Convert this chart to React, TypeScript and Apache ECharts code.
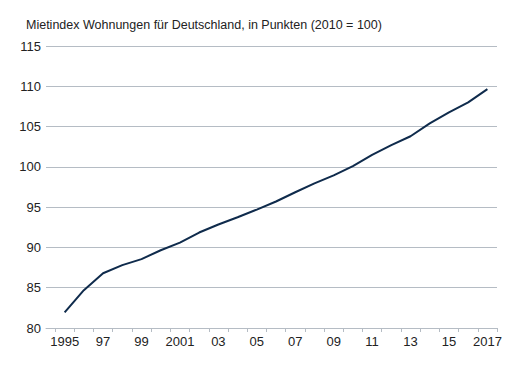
import React, { useEffect, useRef } from "react";
import * as echarts from "echarts";

const title = "Mietindex Wohnungen für Deutschland, in Punkten (2010 = 100)";
const years = [1995, 1996, 1997, 1998, 1999, 2000, 2001, 2002, 2003, 2004, 2005, 2006, 2007, 2008, 2009, 2010, 2011, 2012, 2013, 2014, 2015, 2016, 2017];
const values = [81.95, 84.7, 86.8, 87.8, 88.55, 89.65, 90.6, 91.85, 92.85, 93.75, 94.7, 95.7, 96.85, 97.95, 98.95, 100.1, 101.5, 102.7, 103.8, 105.4, 106.75, 108.0, 109.65];
const tickYears = [1994.5, 1995.5, 1996.5, 1997.5, 1998.5, 1999.5, 2000.5, 2001.5, 2002.5, 2003.5, 2004.5, 2005.5, 2006.5, 2007.5, 2008.5, 2009.5, 2010.5, 2011.5, 2012.5, 2013.5, 2014.5, 2015.5, 2016.5, 2017.5];
const labelYears = [1995, 1997, 1999, 2001, 2003, 2005, 2007, 2009, 2011, 2013, 2015, 2017];
const labelTexts = ["1995", "97", "99", "2001", "03", "05", "07", "09", "11", "13", "15", "2017"];

const FONT = "Liberation Sans, Arial, sans-serif";

export default function App() {
  const ref = useRef<HTMLDivElement>(null);
  useEffect(() => {
    if (!ref.current) return;
    const chart = echarts.init(ref.current, null, { renderer: "svg" });
    chart.setOption({
      animation: false,
      backgroundColor: "#ffffff",
      title: {
        text: title,
        left: 13,
        top: 5,
        textStyle: { fontFamily: FONT, fontSize: 12.5, fontWeight: "normal", color: "#222222" },
      },
      grid: { left: 38, right: 13, top: 38, bottom: 49, containLabel: false },
      xAxis: {
        type: "value",
        min: 1994.03,
        max: 2017.5,
        splitLine: { show: false },
        axisLine: { show: true, lineStyle: { color: "#b5bcc4", width: 1 } },
        axisTick: { show: true, length: 4, customValues: tickYears, lineStyle: { color: "#b5bcc4" } },
        axisLabel: {
          customValues: labelYears,
          formatter: (v: number) => {
            const i = labelYears.indexOf(Math.round(v));
            return i >= 0 ? labelTexts[i] : "";
          },
          fontFamily: FONT,
          fontSize: 13,
          color: "#222222",
          margin: 7,
        },
      },
      yAxis: {
        type: "value",
        min: 80,
        max: 115,
        interval: 5,
        axisLine: { show: false },
        axisTick: { show: false },
        splitLine: { show: true, lineStyle: { color: "#b5bcc4", width: 1 } },
        axisLabel: { fontFamily: FONT, fontSize: 13, color: "#222222", margin: 5 },
      },
      series: [
        {
          type: "line",
          data: years.map((y, i) => [y, values[i]]),
          showSymbol: false,
          symbol: "none",
          lineStyle: { color: "#0f2b4c", width: 2 },
        },
      ],
    });
    return () => chart.dispose();
  }, []);
  return <div ref={ref} style={{ width: 502, height: 369 }} />;
}
